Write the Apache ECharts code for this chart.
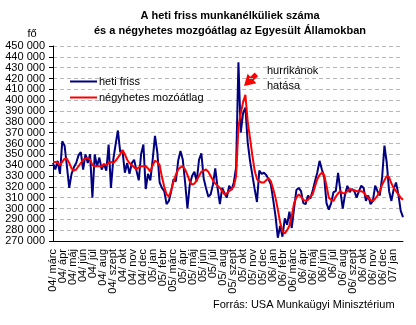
<!DOCTYPE html>
<html>
<head>
<meta charset="utf-8">
<script src="https://cdn.jsdelivr.net/npm/echarts@6/dist/echarts.min.js"></script>
<style>
html,body{margin:0;padding:0;background:#fff;}
#c{width:416px;height:325px;}
</style>
</head>
<body>
<div id="c"></div>
<script>
const monthLabels = ['04/ márc','04/ ápr','04/ máj','04/ jún','04/ júl','04/ aug','04/ szept','04/ okt','04/ nov','04/ dec',
  '05/ jan','05/ febr','05/ márc','05/ ápr','05/ máj','05/ jún','05/ júl','05/ aug','05/ szept','05/ okt','05/ nov','05/ dec',
  '06/ jan','06/ febr','06/ márc','06/ ápr','06/ máj','06/ jún','06/ júl','06/ aug','06/ szept','06/ okt','06/ nov','06/ dec',
  '07/ jan'];

// heti friss munkanélküli-segély igénylések (fő), hetente
const weekly = [
  342000,336000,344000,332000,362000,358000,339000,319000,332000,338000,
  342000,349000,352000,336000,350000,342000,350000,310000,350000,339000,
  347000,336000,341000,335000,359000,319000,345000,359000,372000,352000,
  353000,333000,342000,332000,342000,345000,335000,326000,350000,359000,
  318000,332000,326000,345000,367000,352000,324000,319000,316000,304000,
  307000,316000,327000,325000,344000,353000,345000,324000,300000,322000,
  330000,334000,325000,345000,351000,328000,319000,311000,313000,322000,
  337000,319000,304000,319000,314000,310000,321000,317000,324000,338000,
  435000,370000,388000,393000,361000,344000,331000,318000,306000,335000,
  332000,333000,331000,327000,322000,308000,293000,273000,284000,274000,
  291000,285000,297000,282000,300000,317000,319000,316000,305000,304000,
  312000,309000,316000,325000,333000,344000,336000,329000,305000,299000,
  305000,315000,316000,333000,316000,300000,313000,321000,315000,318000,
  316000,310000,316000,321000,319000,307000,312000,304000,307000,321000,
  316000,312000,329000,358000,342000,316000,307000,318000,324000,313000,
  298000,292000
];

// négyhetes mozgóátlag (fő)
const avg4 = [
  343000,343000,342000,340000,343000,346000,346000,342000,337000,335000,
  336000,339000,342000,345000,346000,347000,345000,340000,339000,339000,
  339000,339000,341000,340000,342000,343000,342000,344000,347000,350000,
  354000,350000,345000,342000,340000,338000,336000,338000,339000,339000,
  339000,337000,334000,340000,344000,343000,340000,329000,320000,313000,
  311000,317000,325000,331000,336000,338000,339000,336000,331000,325000,
  322000,323000,326000,330000,334000,335000,336000,334000,330000,326000,
  323000,321000,319000,316000,313000,314000,316000,318000,320000,330000,
  375000,388000,398000,405000,380000,365000,349000,335000,327000,325000,
  324000,324000,326000,328000,325000,318000,310000,299000,287000,279000,
  277000,280000,284000,293000,305000,310000,313000,311000,308000,307000,
  308000,311000,313000,320000,327000,331000,333000,331000,321000,310000,
  308000,307000,311000,314000,316000,314000,314000,316000,318000,317000,
  317000,316000,316000,316000,315000,312000,310000,308000,307000,309000,
  312000,316000,322000,326000,330000,329000,323000,319000,316000,313000,
  310000,308000
];

const seriesNames = ['heti friss', 'négyhetes mozóátlag'];
const titleLines = ['A heti friss munkanélküliek száma', 'és a négyhetes mozgóátlag az Egyesült Államokban'];
const unitLabel = 'fő';
const sourceText = 'Forrás: USA Munkaügyi Minisztérium';
const noteLines = ['hurrikánok', 'hatása'];

const FONT = '"Liberation Sans", Arial, sans-serif';
const chart = echarts.init(document.getElementById('c'), null, {renderer: 'canvas'});

chart.setOption({
  animation: false,
  backgroundColor: '#fff',
  grid: {left: 53, right: 13, top: 46, bottom: 84, containLabel: false},
  legend: {
    orient: 'vertical', left: 70, top: 75, padding: 0,
    icon: 'rect', itemWidth: 27, itemHeight: 2, itemGap: 3,
    data: seriesNames,
    textStyle: {fontFamily: FONT, fontSize: 11, color: '#000', padding: [0, 0, 0, -3], lineHeight: 13}
  },
  xAxis: [
    {
      type: 'category', data: monthLabels.concat(['']), boundaryGap: false,
      axisLine: {lineStyle: {color: '#000', width: 1}},
      axisTick: {show: false},
      axisLabel: {rotate: 90, interval: 0, fontFamily: FONT, fontSize: 11, color: '#000', margin: 8},
      splitLine: {show: false}
    },
    {type: 'value', min: 0, max: weekly.length - 1, show: false}
  ],
  yAxis: {
    type: 'value', min: 270000, max: 450000, interval: 10000,
    axisLine: {show: true, lineStyle: {color: '#000', width: 1}},
    axisTick: {show: true, length: 4, lineStyle: {color: '#000'}},
    axisLabel: {fontFamily: FONT, fontSize: 11, color: '#000', margin: 8,
      formatter: v => (v / 1000) + ' 000'},
    splitLine: {show: true, lineStyle: {color: '#b8b8b8', type: [4, 3], width: 1}}
  },
  series: [
    {
      name: seriesNames[0], type: 'line', xAxisIndex: 1, symbol: 'none',
      data: weekly.map((v, i) => [i, v]),
      lineStyle: {color: '#000080', width: 2}, itemStyle: {color: '#000080'}
    },
    {
      name: seriesNames[1], type: 'line', xAxisIndex: 1, symbol: 'none',
      data: avg4.map((v, i) => [i, v]),
      lineStyle: {color: '#ff0000', width: 2}, itemStyle: {color: '#ff0000'}
    }
  ],
  graphic: [
    {type: 'text', x: 230, y: 15.5, style: {text: titleLines[0], fontFamily: FONT, fontSize: 11, fontWeight: 'bold', fill: '#000', align: 'center', verticalAlign: 'middle'}},
    {type: 'text', x: 230, y: 30.5, style: {text: titleLines[1], fontFamily: FONT, fontSize: 11, fontWeight: 'bold', fill: '#000', align: 'center', verticalAlign: 'middle'}},
    {type: 'text', x: 32, y: 34, style: {text: unitLabel, fontFamily: FONT, fontSize: 11, fill: '#000', align: 'center', verticalAlign: 'middle'}},
    {type: 'text', x: 213, y: 305, style: {text: sourceText, fontFamily: FONT, fontSize: 11, fill: '#000', align: 'left', verticalAlign: 'middle'}},
    {type: 'text', x: 267, y: 71, style: {text: noteLines[0], fontFamily: FONT, fontSize: 11, fill: '#000', align: 'left', verticalAlign: 'middle'}},
    {type: 'text', x: 267, y: 86, style: {text: noteLines[1], fontFamily: FONT, fontSize: 11, fill: '#000', align: 'left', verticalAlign: 'middle'}},
    {type: 'polygon', shape: {points: [[244, 86], [256.4, 83.2], [253.7, 80.3], [258.1, 76.2], [254.7, 72.6], [250.3, 76.7], [247.6, 73.8]]},
      style: {fill: '#ff0000'}}
  ]
});
</script>
</body>
</html>
